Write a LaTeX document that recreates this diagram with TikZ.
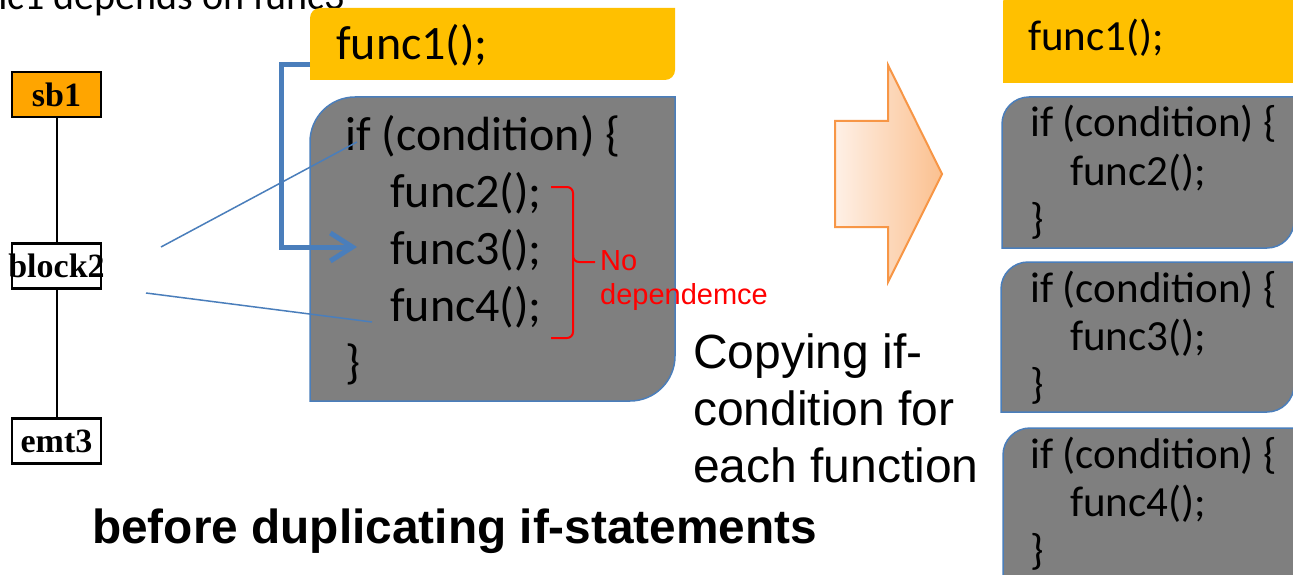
\documentclass[tikz,border=0pt]{standalone}
\usepackage{fontspec}
\setmainfont{Carlito}
\newfontfamily\arialf{Liberation Sans}
\newfontfamily\serifb{Liberation Serif}
\usetikzlibrary{arrows.meta}
\definecolor{gold}{HTML}{FFC000}
\definecolor{boxgray}{HTML}{7F7F7F}
\definecolor{edgeblue}{HTML}{4A7EBB}
\definecolor{sborange}{HTML}{FFA500}
\definecolor{arrline}{HTML}{F79646}
\definecolor{arrlight}{HTML}{FEF0E6}
\definecolor{arrdark}{HTML}{FBC08F}
\newcommand\diagrect[6]{%
  \path[#1] (#2,#5) -- (#2,#3-#6) arc[start angle=180,end angle=90,radius=#6]
    -- (#4,#3) -- (#4,#5+#6) arc[start angle=0,end angle=-90,radius=#6] -- cycle;}
\tikzset{
  codebig/.style={anchor=base west, inner sep=0pt, font=\fontsize{48}{57}\selectfont},
  codesmall/.style={anchor=base west, inner sep=0pt, font=\fontsize{43}{50}\selectfont},
  graybox/.style={fill=boxgray, draw=edgeblue, line width=1.5pt},
  goldbox/.style={fill=gold},
  treebox/.style={draw=black, line width=2.5pt, minimum width=89pt, minimum height=45pt,
    inner sep=0pt, font=\serifb\bfseries\fontsize{34}{34}\selectfont},
  treeline/.style={draw=black, line width=2pt},
  thinblue/.style={draw=edgeblue, line width=1.5pt},
  thickblue/.style={draw=edgeblue, line width=5pt},
  redtxt/.style={anchor=base west, inner sep=0pt, text=red, font=\arialf\fontsize{29}{34}\selectfont},
  bigtxt/.style={anchor=base west, inner sep=0pt, font=\arialf\fontsize{48}{57}\selectfont},
}
\begin{document}
\begin{tikzpicture}[x=1pt,y=1pt]
\useasboundingbox (0,0) rectangle (1293,-575);
\clip (0,0) rectangle (1293,-575);
\fill[white] (0,0) rectangle (1293,-575);

% top cut text
\node[anchor=base west, inner sep=0pt, font=\fontsize{40}{48}\selectfont] (dep) at (-47,-10) {func1 depends on func3};

% left orange box
\diagrect{goldbox}{310}{-8}{675}{-80}{10}
\node[codebig] (f1) at (336,-60) {func1();};

% left gray box
\diagrect{graybox}{310}{-97}{675}{-401}{45}
\node[codebig] (ifc) at (345,-150) {if (condition) \{};
\node[codebig] (f2) at (390,-207) {func2();};
\node[codebig] (f3) at (390,-264) {func3();};
\node[codebig] (f4) at (390,-321) {func4();};
\node[codebig] (cl) at (345,-378) {\}};

% tree
\node[treebox, fill=sborange] (sb1) at (56.5,-94.5) {\makebox[0pt]{sb1}};
\node[treebox, fill=white] (block2) at (56.5,-266) {\makebox[0pt]{block2}};
\node[treebox, fill=white] (emt3) at (56.5,-441) {\makebox[0pt]{emt3}};
\draw[treeline] (sb1) -- (block2);
\draw[treeline] (block2) -- (emt3);

% thin blue lines
\coordinate (a1) at (161,-247);
\coordinate (a2) at (357,-142);
\coordinate (b1) at (146,-293);
\coordinate (b2) at (372,-322);
\draw[thinblue] (a1) -- (a2);
\draw[thinblue] (b1) -- (b2);

% thick bracket arrow
\coordinate (f1w) at (310,-65);
\coordinate (f3a) at (357,-247);
\draw[thickblue, -{Straight Barb[length=22pt,width=28pt]}] (f1w) -- ++(-29,0) |- (f3a);

% red brace
\draw[red, line width=2pt, rounded corners=6pt] (551,-187) -- (573,-187) -- (573,-262) -- (595,-262);
\draw[red, line width=2pt, rounded corners=6pt] (573,-255) -- (573,-338) -- (551,-338);
\node[redtxt] (no) at (600,-270) {No};
\node[redtxt] (dp) at (600,-304) {dependemce};

% big arrow
\path[draw=arrline, line width=2pt, left color=arrlight, right color=arrdark]
  (835,-121) -- (888,-121) -- (888,-65) -- (942,-174) -- (888,-282) -- (888,-227) -- (835,-227) -- cycle;

% copying text
\node[bigtxt] (c1) at (693,-368) {Copying if-};
\node[bigtxt] (c2) at (693,-425) {condition for};
\node[bigtxt] (c3) at (693,-482) {each function};

% bottom caption
\node[anchor=base west, inner sep=0pt, font=\arialf\bfseries\fontsize{47.8}{57}\selectfont] (cap) at (92,-543) {before duplicating if-statements};

% right side
\diagrect{goldbox}{1003}{10}{1310}{-83}{12}
\node[codesmall] (rf1) at (1028,-51) {func1();};

\diagrect{graybox}{1002}{-97}{1294}{-248}{27}
\node[codesmall] (r1a) at (1030,-137) {if (condition) \{};
\node[codesmall] (r1b) at (1070,-185) {func2();};
\node[codesmall] (r1c) at (1030,-233) {\}};

\diagrect{graybox}{1001}{-262}{1294}{-412}{27}
\node[codesmall] (r2a) at (1030,-302) {if (condition) \{};
\node[codesmall] (r2b) at (1070,-350) {func3();};
\node[codesmall] (r2c) at (1030,-398) {\}};

\diagrect{graybox}{1003}{-428}{1294}{-620}{27}
\node[codesmall] (r3a) at (1030,-468) {if (condition) \{};
\node[codesmall] (r3b) at (1070,-516) {func4();};
\node[codesmall] (r3c) at (1030,-564) {\}};
\end{tikzpicture}
\end{document}
